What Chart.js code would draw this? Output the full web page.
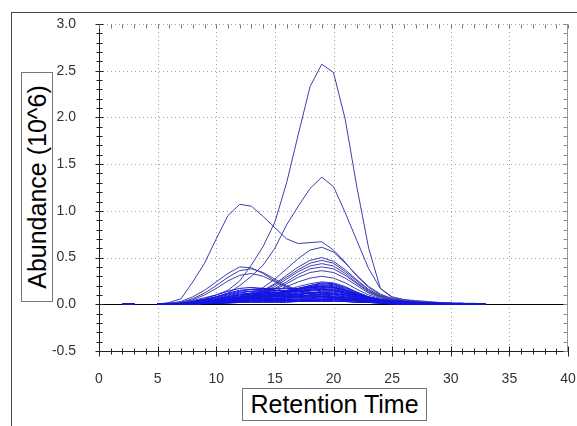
<!DOCTYPE html>
<html><head><meta charset="utf-8">
<script src="https://cdn.jsdelivr.net/npm/chart.js@4"></script>
<style>
html,body{margin:0;padding:0;background:#fff;width:577px;height:426px;overflow:hidden}
#wrap{position:relative;width:577px;height:426px}
#c{position:absolute;left:0;top:0}
.frame{position:absolute;left:11px;top:12px;width:600px;height:500px;border-left:1.5px solid #444;border-top:1.5px solid #444;pointer-events:none}
.ytitle{position:absolute;left:21px;top:72px;width:32px;height:230px;border:1px solid #777;box-sizing:border-box;background:#fff}
.ytitle span{position:absolute;left:50%;top:50%;transform:translate(-50%,-50%) rotate(-90deg);white-space:nowrap;font:25px "Liberation Sans",Arial,sans-serif;color:#000;line-height:28px}
.xtitle{position:absolute;left:242px;top:388px;width:185px;height:33px;border:1px solid #777;box-sizing:border-box;font:25px "Liberation Sans",Arial,sans-serif;line-height:31px;text-align:center;color:#000;background:#fff}
</style></head>
<body><div id="wrap">
<canvas id="c" width="577" height="426"></canvas>
<div class="frame"></div>
<div class="ytitle"><span>Abundance (10^6)</span></div>
<div class="xtitle">Retention Time</div>
</div>
<script>
// Retention time sample points (value at t=4 left empty)
const times = [2,3,4,5,6,7,8,9,10,11,12,13,14,15,16,17,18,19,20,21,22,23,24,25,26,27,28,29,30,31,32,33];
// Tick labels
const xTicks = [0,5,10,15,20,25,30,35,40];
const yTicks = [-0.5,0,0.5,1.0,1.5,2.0,2.5,3.0];

// Abundance series (10^6) - larger peaks
const S1  = [0,0,null,0,0.01,0.02,0.04,0.07,0.10,0.15,0.25,0.42,0.62,0.88,1.30,1.82,2.33,2.57,2.48,1.98,1.25,0.60,0.17,0.07,0.05,0.04,0.03,0.02,0.01,0.01,0,0];
const S2  = [0,0,null,0,0,0.01,0.03,0.05,0.08,0.12,0.20,0.30,0.42,0.60,0.85,1.05,1.24,1.36,1.26,0.98,0.68,0.38,0.17,0.08,0.05,0.03,0.02,0.01,0.01,0,0,0];
const S3  = [0,0,null,0,0.02,0.06,0.24,0.44,0.70,0.95,1.07,1.05,0.94,0.82,0.70,0.65,0.66,0.67,0.58,0.45,0.30,0.18,0.10,0.06,0.04,0.03,0.02,0.01,0.01,0,0,0];
const S4  = [0,0,null,0,0,0.01,0.02,0.03,0.04,0.06,0.08,0.12,0.18,0.27,0.38,0.49,0.58,0.61,0.56,0.44,0.31,0.19,0.11,0.06,0.04,0.03,0.02,0.01,0.01,0,0,0];
const S5  = [0,0,null,0,0,0.01,0.02,0.03,0.04,0.05,0.07,0.10,0.15,0.22,0.31,0.40,0.47,0.50,0.46,0.37,0.26,0.16,0.09,0.05,0.03,0.02,0.01,0.01,0,0,0,0];
const S6  = [0,0,null,0,0,0.01,0.01,0.02,0.03,0.05,0.07,0.10,0.14,0.21,0.29,0.37,0.44,0.47,0.44,0.35,0.25,0.15,0.09,0.05,0.03,0.02,0.01,0.01,0,0,0,0];
const S7  = [0,0,null,0,0,0,0.01,0.02,0.03,0.04,0.06,0.09,0.13,0.19,0.27,0.35,0.41,0.435,0.41,0.33,0.23,0.14,0.08,0.05,0.03,0.02,0.01,0.01,0,0,0,0];
const S8  = [0,0,null,0,0,0,0.01,0.02,0.03,0.04,0.06,0.08,0.12,0.17,0.24,0.32,0.38,0.40,0.38,0.31,0.22,0.13,0.08,0.04,0.03,0.02,0.01,0.01,0,0,0,0];
const S9  = [0,0,null,0,0,0,0.01,0.02,0.03,0.04,0.05,0.08,0.11,0.16,0.22,0.29,0.34,0.36,0.34,0.28,0.20,0.12,0.07,0.04,0.02,0.01,0.01,0,0,0,0,0];
const S10 = [0,0,null,0,0,0,0.01,0.01,0.02,0.03,0.05,0.07,0.10,0.14,0.19,0.24,0.28,0.30,0.28,0.23,0.16,0.10,0.06,0.03,0.02,0.01,0.01,0,0,0,0,0];
const S11 = [0,0,null,0,0,0,0.01,0.01,0.02,0.03,0.04,0.06,0.08,0.11,0.15,0.19,0.22,0.24,0.23,0.19,0.13,0.08,0.05,0.03,0.02,0.01,0.01,0,0,0,0,0];
const H1  = [0,0,null,0,0.01,0.03,0.08,0.15,0.24,0.33,0.40,0.39,0.33,0.25,0.19,0.15,0.12,0.10,0.08,0.06,0.04,0.03,0.02,0.01,0.01,0,0,0,0,0,0,0];
const H2  = [0,0,null,0,0.01,0.02,0.06,0.12,0.20,0.29,0.36,0.38,0.34,0.27,0.20,0.15,0.12,0.10,0.08,0.06,0.04,0.03,0.02,0.01,0.01,0,0,0,0,0,0,0];
const H3  = [0,0,null,0,0,0.02,0.05,0.10,0.17,0.25,0.31,0.33,0.30,0.24,0.18,0.14,0.11,0.09,0.07,0.05,0.04,0.03,0.02,0.01,0.01,0,0,0,0,0,0,0];
// smaller, densely packed series
const L1  = [0,0,null,0,0,0.01,0.03,0.06,0.10,0.14,0.17,0.18,0.17,0.15,0.14,0.15,0.18,0.20,0.19,0.15,0.10,0.06,0.03,0.02,0.01,0.01,0,0,0,0,0,0];
const L2  = [0,0,null,0,0,0.01,0.02,0.05,0.08,0.12,0.15,0.16,0.16,0.15,0.15,0.17,0.20,0.22,0.21,0.17,0.12,0.07,0.04,0.02,0.01,0.01,0,0,0,0,0,0];
const L3  = [0,0,null,0,0,0.01,0.02,0.04,0.07,0.10,0.13,0.14,0.14,0.13,0.13,0.14,0.16,0.17,0.16,0.13,0.09,0.06,0.03,0.02,0.01,0,0,0,0,0,0,0];
const L4  = [0,0,null,0,0,0,0.01,0.03,0.05,0.08,0.11,0.12,0.12,0.12,0.13,0.16,0.19,0.21,0.20,0.16,0.11,0.07,0.04,0.02,0.01,0,0,0,0,0,0,0];
const L5  = [0,0,null,0,0,0,0.01,0.02,0.04,0.06,0.08,0.10,0.11,0.12,0.14,0.17,0.20,0.23,0.22,0.18,0.13,0.08,0.05,0.03,0.02,0.01,0,0,0,0,0,0];
const L6  = [0,0,null,0,0,0,0.01,0.02,0.03,0.05,0.07,0.08,0.09,0.10,0.12,0.14,0.17,0.19,0.18,0.15,0.11,0.07,0.04,0.02,0.01,0.01,0,0,0,0,0,0];
const L7  = [0,0,null,0,0,0,0.01,0.02,0.03,0.04,0.06,0.07,0.08,0.09,0.10,0.12,0.14,0.15,0.15,0.12,0.09,0.06,0.04,0.02,0.01,0,0,0,0,0,0,0];
const L8  = [0,0,null,0,0,0.01,0.02,0.04,0.06,0.08,0.10,0.11,0.10,0.09,0.09,0.10,0.12,0.13,0.12,0.10,0.07,0.05,0.03,0.02,0.01,0,0,0,0,0,0,0];
const L9  = [0,0,null,0,0,0,0.01,0.02,0.04,0.06,0.08,0.09,0.09,0.08,0.08,0.09,0.10,0.11,0.10,0.08,0.06,0.04,0.02,0.01,0.01,0,0,0,0,0,0,0];
const L10 = [0,0,null,0,0,0,0.01,0.02,0.03,0.05,0.06,0.07,0.07,0.07,0.07,0.08,0.09,0.10,0.09,0.08,0.06,0.04,0.02,0.01,0,0,0,0,0,0,0,0];
const L11 = [0,0,null,0,0,0,0.01,0.01,0.02,0.03,0.04,0.05,0.06,0.06,0.07,0.07,0.08,0.08,0.08,0.07,0.05,0.03,0.02,0.01,0,0,0,0,0,0,0,0];
const L12 = [0,0,null,0,0,0,0,0.01,0.02,0.03,0.04,0.04,0.05,0.05,0.05,0.06,0.06,0.07,0.06,0.05,0.04,0.03,0.02,0.01,0,0,0,0,0,0,0,0];
const L13 = [0,0,null,0,0,0,0,0.01,0.01,0.02,0.03,0.03,0.04,0.04,0.04,0.05,0.05,0.05,0.05,0.04,0.03,0.02,0.01,0.01,0,0,0,0,0,0,0,0];
const L14 = [0,0,null,0,0,0,0,0.01,0.01,0.02,0.02,0.03,0.03,0.03,0.03,0.03,0.04,0.04,0.04,0.03,0.02,0.02,0.01,0,0,0,0,0,0,0,0,0];
const L15 = [0,0,null,0,0,0,0.01,0.02,0.04,0.07,0.10,0.12,0.13,0.12,0.11,0.10,0.09,0.08,0.07,0.05,0.04,0.03,0.02,0.01,0,0,0,0,0,0,0,0];
const L16 = [0,0,null,0,0,0,0.01,0.02,0.03,0.05,0.07,0.09,0.10,0.11,0.11,0.11,0.12,0.12,0.11,0.09,0.07,0.05,0.03,0.02,0.01,0,0,0,0,0,0,0];
const L17 = [0,0,null,0,0,0,0,0.01,0.02,0.03,0.05,0.06,0.08,0.10,0.13,0.16,0.18,0.19,0.18,0.15,0.11,0.08,0.05,0.03,0.02,0.01,0.01,0,0,0,0,0];
const L18 = [0,0,null,0,0,0,0,0.01,0.01,0.02,0.04,0.05,0.07,0.09,0.11,0.13,0.15,0.16,0.15,0.13,0.10,0.07,0.04,0.03,0.02,0.01,0,0,0,0,0,0];
const L19 = [0,0,null,0,0,0.01,0.03,0.05,0.08,0.11,0.14,0.16,0.17,0.17,0.17,0.17,0.18,0.19,0.18,0.15,0.11,0.07,0.05,0.03,0.02,0.01,0.01,0,0,0,0,0];
const L20 = [0,0,null,0,0,0.01,0.02,0.04,0.06,0.09,0.12,0.14,0.15,0.15,0.14,0.14,0.15,0.16,0.15,0.12,0.09,0.06,0.04,0.03,0.02,0.01,0.01,0.01,0,0,0,0];
const L21 = [0,0,null,0,0.01,0.01,0.02,0.03,0.05,0.07,0.09,0.11,0.12,0.13,0.13,0.14,0.16,0.18,0.17,0.14,0.10,0.07,0.05,0.03,0.02,0.02,0.01,0.01,0.01,0,0,0];
const L22 = [0,0,null,0,0,0.01,0.01,0.03,0.04,0.06,0.07,0.08,0.09,0.10,0.10,0.11,0.12,0.13,0.13,0.11,0.09,0.06,0.04,0.03,0.02,0.01,0.01,0,0,0,0,0];
const L23 = [0,0,null,0,0,0,0.01,0.02,0.03,0.04,0.05,0.06,0.06,0.06,0.06,0.07,0.07,0.08,0.08,0.07,0.06,0.05,0.04,0.03,0.02,0.01,0.01,0.01,0,0,0,0];
const L24 = [0,0,null,0,0,0,0.01,0.01,0.02,0.03,0.04,0.05,0.05,0.05,0.05,0.05,0.06,0.06,0.06,0.05,0.05,0.04,0.03,0.02,0.02,0.01,0.01,0.01,0.01,0,0,0];
const L25 = [0,0,null,0,0,0,0,0.01,0.02,0.02,0.03,0.03,0.04,0.04,0.04,0.04,0.04,0.05,0.05,0.04,0.04,0.03,0.03,0.02,0.02,0.01,0.01,0.01,0.01,0.01,0,0];
const L26 = [0,0,null,0,0,0,0,0.01,0.01,0.01,0.02,0.02,0.02,0.02,0.02,0.03,0.03,0.03,0.03,0.03,0.02,0.02,0.02,0.02,0.01,0.01,0.01,0.01,0.01,0.01,0.01,0];
const L27 = [0,0,null,0,0,0.01,0.02,0.03,0.05,0.06,0.07,0.08,0.08,0.08,0.08,0.09,0.10,0.11,0.11,0.10,0.08,0.06,0.05,0.04,0.03,0.02,0.02,0.01,0.01,0.01,0,0];
const L28 = [0,0,null,0,0,0,0.01,0.02,0.03,0.04,0.05,0.06,0.07,0.08,0.09,0.10,0.12,0.14,0.14,0.12,0.09,0.07,0.05,0.04,0.03,0.02,0.02,0.01,0.01,0.01,0,0];
const L29 = [0,0,null,0,0,0,0,0.01,0.01,0.02,0.03,0.04,0.05,0.06,0.07,0.08,0.10,0.11,0.11,0.10,0.08,0.06,0.05,0.04,0.03,0.02,0.01,0.01,0.01,0,0,0];
const L30 = [0,0,null,0,0,0.01,0.01,0.02,0.04,0.05,0.07,0.09,0.10,0.10,0.09,0.08,0.08,0.08,0.07,0.06,0.05,0.04,0.03,0.02,0.02,0.01,0.01,0.01,0,0,0,0];

const bigSeries = [S1,S2,S3,S4,S5,S6,S7,S8,S9,S10,S11,H1,H2,H3];
const smallSeries = [L1,L2,L3,L4,L5,L6,L7,L8,L9,L10,L11,L12,L13,L14,L15,L16,L17,L18,L19,L20,L21,L22,L23,L24,L25,L26,L27,L28,L29,L30];

const mk = (s,k,color)=>({
  label:'s'+k,
  data: times.map((t,i)=>({x:t,y:s[i]})),
  borderColor: color, borderWidth:1, pointRadius:0, tension:0, fill:false, spanGaps:false
});
const datasets = [
  ...smallSeries.map((s,k)=>mk(s,'L'+(k+1),'rgb(20,20,225)')),
  ...bigSeries.map((s,k)=>mk(s,'S'+(k+1),'rgb(62,62,175)'))
];

const FONT = {family:'"Liberation Sans", Arial, sans-serif', size:14};

const deco = {
  id:'deco',
  beforeDatasetsDraw(chart){
    const {ctx, chartArea:a, scales:{x,y}} = chart;
    ctx.save();
    ctx.lineWidth = 1;
    ctx.strokeStyle = '#a0a0a0';
    ctx.setLineDash([1,3]);
    xTicks.forEach(v=>{
      if (v<=0 || v>=40) return;
      const px = Math.round(x.getPixelForValue(v))+0.5;
      ctx.beginPath(); ctx.moveTo(px,a.top); ctx.lineTo(px,a.bottom); ctx.stroke();
    });
    yTicks.forEach(v=>{
      if (v===0 || v<=-0.5) return;
      const py = Math.round(y.getPixelForValue(v))+0.5;
      ctx.beginPath(); ctx.moveTo(a.left,py); ctx.lineTo(a.right,py); ctx.stroke();
    });
    ctx.setLineDash([]);
    ctx.strokeStyle = '#000';
    const pz = Math.round(y.getPixelForValue(0))+0.5;
    ctx.beginPath(); ctx.moveTo(a.left,pz); ctx.lineTo(a.right,pz); ctx.stroke();
    ctx.restore();
  },
  afterDatasetsDraw(chart){
    const {ctx, chartArea:a, scales:{x,y}} = chart;
    ctx.save();
    ctx.lineWidth = 1;
    const L = Math.round(a.left)+0.5, R = Math.round(a.right)-0.5, T = Math.round(a.top)+0.5, B = Math.round(a.bottom)+0.5;
    ctx.strokeStyle = '#999';
    ctx.beginPath(); ctx.moveTo(R,T); ctx.lineTo(R,B); ctx.stroke();
    ctx.strokeStyle = '#222';
    ctx.beginPath(); ctx.moveTo(L,T); ctx.lineTo(L,B); ctx.lineTo(R,B); ctx.stroke();
    for (let i=-5;i<=30;i++){
      const py = Math.round(y.getPixelForValue(i/10))+0.5;
      const major = (i%5===0);
      const len = major?4:3;
      ctx.strokeStyle='#222';
      ctx.beginPath(); ctx.moveTo(L-len,py); ctx.lineTo(L+len,py); ctx.stroke();
      ctx.strokeStyle='#888';
      ctx.beginPath(); ctx.moveTo(R-4,py); ctx.lineTo(R,py); ctx.stroke();
    }
    for (let i=0;i<=40;i++){
      const px = Math.round(x.getPixelForValue(i))+0.5;
      const major = (i%5===0);
      ctx.strokeStyle='#222';
      ctx.beginPath(); ctx.moveTo(px,B-(major?5:3)); ctx.lineTo(px,B+(major?5:3)); ctx.stroke();
      ctx.strokeStyle='#777';
      ctx.beginPath(); ctx.moveTo(px,T); ctx.lineTo(px,T+4); ctx.stroke();
    }
    ctx.restore();
  }
};

new Chart(document.getElementById('c'), {
  type:'line',
  data:{datasets},
  options:{
    responsive:false, animation:false, events:[],
    layout:{padding:{top:24,right:9,left:0,bottom:0}},
    plugins:{legend:{display:false}, tooltip:{enabled:false}},
    scales:{
      x:{type:'linear', min:0, max:40,
        afterBuildTicks: s => { s.ticks = xTicks.map(v=>({value:v})); },
        afterFit: s => { s.height = 75; s.paddingLeft = 0; s.paddingRight = 0; },
        grid:{display:false}, border:{display:false},
        ticks:{font:FONT, color:'#333', padding:12, autoSkip:false, maxRotation:0, callback:v=>String(v)}
      },
      y:{type:'linear', min:-0.5, max:3,
        afterBuildTicks: s => { s.ticks = yTicks.map(v=>({value:v})); },
        afterFit: s => { s.width = 99; s.paddingTop = 0; s.paddingBottom = 0; },
        grid:{display:false}, border:{display:false},
        ticks:{font:FONT, color:'#333', padding:15, callback:v=>Number(v).toFixed(1)}
      }
    }
  },
  plugins:[deco]
});
</script>
</body></html>
